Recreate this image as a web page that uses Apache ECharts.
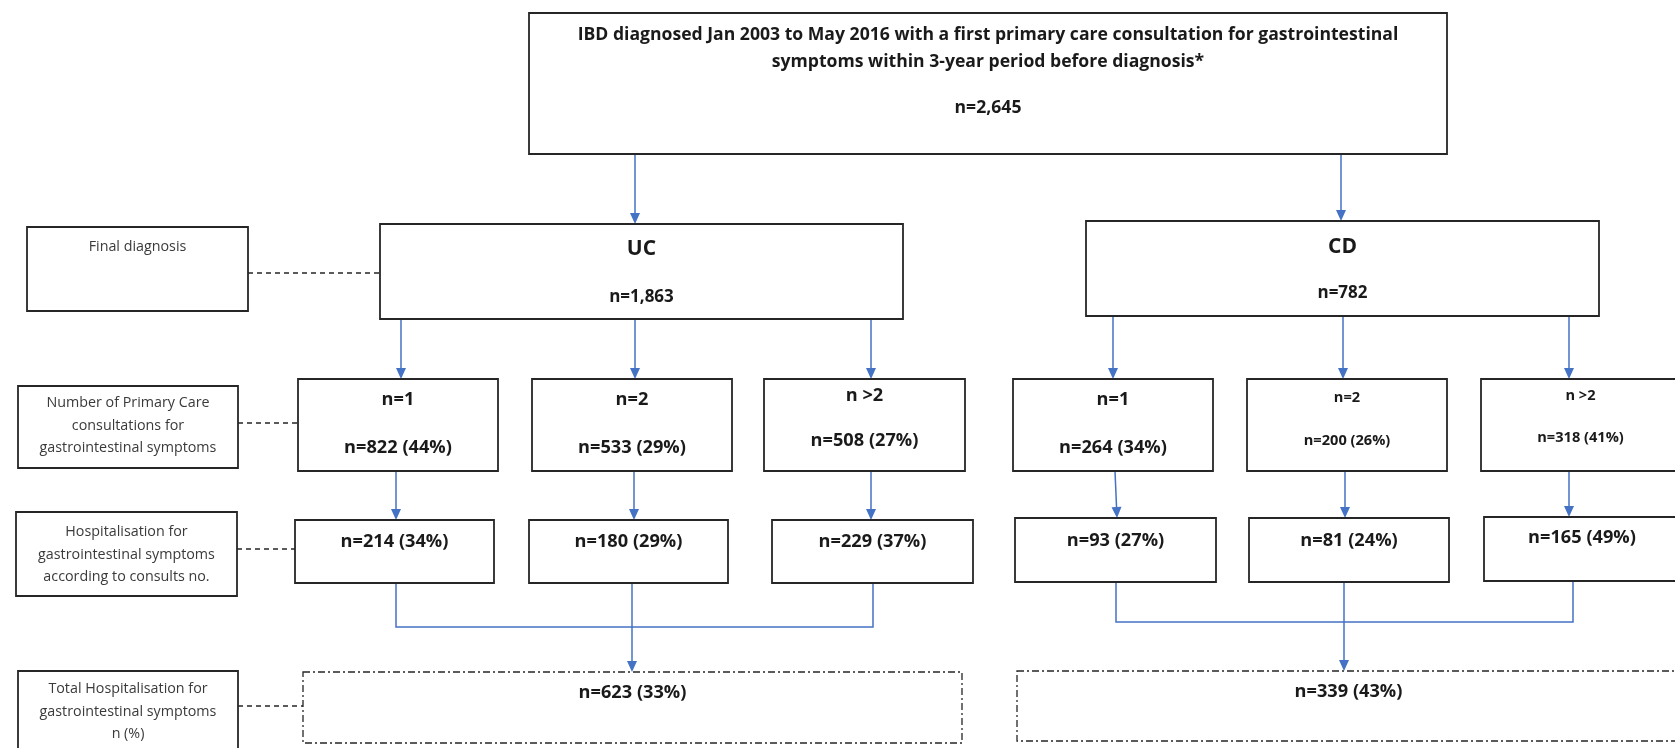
<!DOCTYPE html>
<html>
<head>
<meta charset="utf-8">
<script src="https://cdn.jsdelivr.net/npm/echarts@6/dist/echarts.min.js"></script>
<style>
  html, body { margin: 0; padding: 0; background: #fff; }
  #chart { width: 1675px; height: 748px; }
</style>
</head>
<body>
<div id="chart"></div>
<script>
// ---- data ----
var titleLines = [
  'IBD diagnosed Jan 2003 to May 2016 with a first primary care consultation for gastrointestinal',
  'symptoms within 3-year period before diagnosis*'
];
var totalN = 2645;
var groups = ['UC', 'CD'];
var groupN = [1863, 782];
var consultLabels = ['n=1', 'n=2', 'n >2'];
var ucConsultN = [822, 533, 508];
var ucConsultPct = [44, 29, 27];
var cdConsultN = [264, 200, 318];
var cdConsultPct = [34, 26, 41];
var ucHospN = [214, 180, 229];
var ucHospPct = [34, 29, 37];
var cdHospN = [93, 81, 165];
var cdHospPct = [27, 24, 49];
var totalHospN = [623, 339];
var totalHospPct = [33, 43];
var rowLabels = [
  ['Final diagnosis'],
  ['Number of Primary Care', 'consultations for', 'gastrointestinal symptoms'],
  ['Hospitalisation for', 'gastrointestinal symptoms', 'according to consults no.'],
  ['Total Hospitalisation for', 'gastrointestinal symptoms', 'n (%)']
];

// ---- layout (page pixels, y downwards) ----
var FONT = '"Open Sans", "DejaVu Sans", sans-serif';
var BLUE = '#4472c4';
var INK = '#262626';
var BIG = 18.2, SMALL = 14.6;

function fmt(n) { return n.toLocaleString('en-US'); }
function np(n, p) { return 'n=' + fmt(n) + ' (' + p + '%)'; }

var boxes = [];
function addBox(rect, lines, kind) { boxes.push({ rect: rect, lines: lines, kind: kind || 'solid' }); }
function t(text, y, size, weight, color) { return { text: text, y: y, size: size, weight: weight, color: color }; }

// top box
addBox([529, 13, 1447, 154], [
  t(titleLines[0], 35, 17.6, 'bold'),
  t(titleLines[1], 62, 17.6, 'bold'),
  t('n=' + fmt(totalN), 108, 17.6, 'bold')
]);
// group boxes
addBox([380, 224, 903, 319], [t(groups[0], 249, 21, 'bold'), t('n=' + fmt(groupN[0]), 297, 17, 'bold')]);
addBox([1086, 221, 1599, 316], [t(groups[1], 247, 21, 'bold'), t('n=' + fmt(groupN[1]), 293, 17, 'bold')]);

// consultation boxes
var ucRow2 = [[298, 379, 498, 471], [532, 379, 732, 471], [764, 379, 965, 471]];
var cdRow2 = [[1013, 379, 1213, 471], [1247, 379, 1447, 471], [1481, 379, 1680, 471]];
var ucRow2Y = [[400, 448], [400, 448], [396, 441]];
var cdRow2Y = [[400, 448], [398, 441], [396, 438]];
var cdRow2Size = [BIG, SMALL, SMALL];
ucRow2.forEach(function (r, i) {
  addBox(r, [t(consultLabels[i], ucRow2Y[i][0], BIG, 'bold'), t(np(ucConsultN[i], ucConsultPct[i]), ucRow2Y[i][1], BIG, 'bold')]);
});
cdRow2.forEach(function (r, i) {
  addBox(r, [t(consultLabels[i], cdRow2Y[i][0], cdRow2Size[i], 'bold'), t(np(cdConsultN[i], cdConsultPct[i]), cdRow2Y[i][1], cdRow2Size[i], 'bold')]);
});

// hospitalisation boxes
var ucRow3 = [[295, 520, 494, 583], [529, 520, 728, 583], [772, 520, 973, 583]];
var cdRow3 = [[1015, 518, 1216, 582], [1249, 518, 1449, 582], [1484, 517, 1680, 581]];
ucRow3.forEach(function (r, i) { addBox(r, [t(np(ucHospN[i], ucHospPct[i]), 542, BIG, 'bold')]); });
cdRow3.forEach(function (r, i) { addBox(r, [t(np(cdHospN[i], cdHospPct[i]), i === 2 ? 538 : 541, BIG, 'bold')]); });

// totals
addBox([303, 672, 962, 743], [t(np(totalHospN[0], totalHospPct[0]), 693, BIG, 'bold')], 'dashdot');
addBox([1017, 671, 1680, 741], [t(np(totalHospN[1], totalHospPct[1]), 692, BIG, 'bold')], 'dashdot');

// row label boxes
var labelRects = [[27, 227, 248, 311], [18, 386, 238, 468], [16, 512, 237, 596], [18, 671, 238, 760]];
var labelFirstY = [247, 403, 532, 689];
labelRects.forEach(function (r, i) {
  addBox(r, rowLabels[i].map(function (s, k) { return t(s, labelFirstY[i] + k * 22.5, 14.3, 'normal', '#3a3a3a'); }));
});

// connectors: points, style, arrow at end
var links = [];
function link(pts, kind, arrow) { links.push({ pts: pts, kind: kind, arrow: arrow }); }
link([[635, 154], [635, 224]], 'blue', true);
link([[1341, 154], [1341, 221]], 'blue', true);
[401, 635, 871].forEach(function (x) { link([[x, 319], [x, 379]], 'blue', true); });
[1113, 1343, 1569].forEach(function (x) { link([[x, 316], [x, 379]], 'blue', true); });
[396, 634, 871].forEach(function (x) { link([[x, 471], [x, 520]], 'blue', true); });
link([[1115, 471], [1117, 518]], 'blue', true);
link([[1345, 471], [1345, 518]], 'blue', true);
link([[1569, 471], [1569, 517]], 'blue', true);
link([[396, 583], [396, 627], [873, 627], [873, 583]], 'blue', false);
link([[632, 583], [632, 672]], 'blue', true);
link([[1116, 582], [1116, 622], [1573, 622], [1573, 581]], 'blue', false);
link([[1344, 582], [1344, 671]], 'blue', true);
link([[248, 273], [380, 273]], 'dash', false);
link([[238, 423], [298, 423]], 'dash', false);
link([[237, 549], [295, 549]], 'dash', false);
link([[238, 706], [303, 706]], 'dash', false);

function renderBox(params, api) {
  var b = boxes[params.dataIndex];
  var p0 = api.coord([b.rect[0], b.rect[1]]);
  var p1 = api.coord([b.rect[2], b.rect[3]]);
  var cx = (p0[0] + p1[0]) / 2;
  var children = [{
    type: 'rect',
    shape: { x: p0[0], y: p0[1], width: p1[0] - p0[0], height: p1[1] - p0[1] },
    style: {
      fill: '#fff', stroke: INK, lineWidth: b.kind === 'dashdot' ? 1.3 : 1.8,
      lineDash: b.kind === 'dashdot' ? [7, 3, 2, 3] : null
    }
  }];
  b.lines.forEach(function (l) {
    children.push({
      type: 'text',
      style: {
        text: l.text, x: cx, y: api.coord([0, l.y])[1],
        align: 'center', verticalAlign: 'middle',
        font: l.weight + ' ' + l.size + 'px ' + FONT,
        fill: l.color || '#1a1a1a'
      }
    });
  });
  return { type: 'group', children: children };
}

function renderLink(params, api) {
  var l = links[params.dataIndex];
  var pts = l.pts.map(function (p) { return api.coord(p); });
  var blue = l.kind === 'blue';
  var children = [];
  var end = pts.slice();
  if (l.arrow) {
    var a = pts[pts.length - 2], b = pts[pts.length - 1];
    var dx = b[0] - a[0], dy = b[1] - a[1], len = Math.sqrt(dx * dx + dy * dy);
    var ux = dx / len, uy = dy / len, hl = 11, hw = 5;
    var base = [b[0] - ux * hl, b[1] - uy * hl];
    end[end.length - 1] = base;
    children.push({
      type: 'polygon',
      shape: { points: [b, [base[0] - uy * hw, base[1] + ux * hw], [base[0] + uy * hw, base[1] - ux * hw]] },
      style: { fill: BLUE }
    });
  }
  children.unshift({
    type: 'polyline',
    shape: { points: end },
    style: {
      fill: null, stroke: blue ? BLUE : INK, lineWidth: blue ? 1.5 : 1.3,
      lineDash: blue ? null : [5, 4]
    }
  });
  return { type: 'group', children: children };
}

var chart = echarts.init(document.getElementById('chart'));
chart.setOption({
  animation: false,
  backgroundColor: '#fff',
  grid: { left: 0, right: 0, top: 0, bottom: 0 },
  xAxis: { type: 'value', min: 0, max: 1675, show: false },
  yAxis: { type: 'value', min: 0, max: 748, inverse: true, show: false },
  series: [
    {
      type: 'custom', clip: false, z: 1,
      renderItem: renderLink,
      data: links.map(function (l) { return l.pts[0]; })
    },
    {
      type: 'custom', clip: false, z: 2,
      renderItem: renderBox,
      data: boxes.map(function (b) { return [(b.rect[0] + b.rect[2]) / 2, (b.rect[1] + b.rect[3]) / 2]; })
    }
  ]
});
</script>
</body>
</html>
